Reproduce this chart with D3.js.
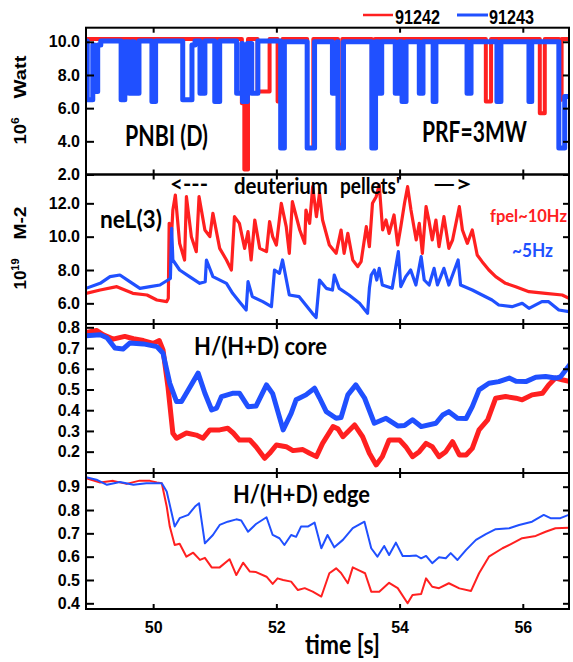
<!DOCTYPE html>
<html><head><meta charset="utf-8">
<script src="https://cdn.jsdelivr.net/npm/d3@7"></script>
<style>body{margin:0;background:#fff}svg{display:block}</style>
</head><body>
<svg id="c" width="573" height="662"></svg>
<script>
// ---------- data (time [s], value) ----------
const xTicks = [50, 52, 54, 56];
const pnbiTicks = [2, 4, 6, 8, 10];
const nelTicks = [6, 8, 10, 12];
const coreTicks = [0.2, 0.3, 0.4, 0.5, 0.6, 0.7, 0.8];
const edgeTicks = [0.4, 0.5, 0.6, 0.7, 0.8, 0.9];
const shots = ["91242", "91243"];

const pnbiRed = [[48.91,10.17],[51.44,6.3],[51.48,2.3],[51.54,10.17],[51.695,7.0],[51.89,10.17],[52.02,6.4],[52.10,10.17],[52.50,3.6],[52.60,10.17],[53.00,3.8],[53.07,10.17],[53.55,6.5],[53.60,10.17],[55.40,6.4],[55.485,10.17],[56.276,5.7],[56.357,10.17],[56.59,6.5],[56.63,10.17],[56.75,10.17]];
const pnbiBlue = [[48.91,10.05],[48.93,6.5],[49.02,9.8],[49.05,7.0],[49.10,9.8],[49.15,10.05],[49.48,6.5],[49.54,10.0],[49.61,6.9],[49.655,10.0],[49.69,6.9],[49.77,10.05],[49.98,6.4],[50.04,10.05],[50.48,6.5],[50.63,9.8],[50.68,10.05],[50.76,6.9],[50.84,10.05],[51.00,6.4],[51.08,10.05],[51.355,6.9],[51.44,9.9],[51.45,6.4],[51.53,9.9],[51.60,6.9],[51.70,10.05],[52.07,3.6],[52.13,10.0],[52.50,3.6],[52.62,10.0],[52.91,6.9],[52.99,10.0],[53.00,3.6],[53.09,10.0],[53.55,3.6],[53.61,10.0],[53.665,6.9],[53.71,10.0],[53.93,6.9],[53.99,10.0],[54.04,6.4],[54.105,10.0],[54.32,6.9],[54.38,10.0],[54.545,6.4],[54.59,10.0],[55.095,6.9],[55.16,10.0],[55.58,6.4],[55.645,10.0],[56.10,6.4],[56.145,10.0],[56.585,3.6],[56.68,6.7],[56.75,6.7]];

const nelRed = [[48.91,6.6],[49.14,6.8],[49.41,7.0],[49.67,6.6],[49.90,6.5],[50.06,6.2],[50.22,6.1],[50.246,6.3],[50.26,10.8],[50.29,9.5],[50.32,11.6],[50.36,12.5],[50.43,9.6],[50.51,8.6],[50.54,12.4],[50.62,10.0],[50.70,9.1],[50.745,12.4],[50.84,10.4],[50.92,10.0],[50.97,11.4],[51.08,9.3],[51.19,8.6],[51.27,8.0],[51.32,11.2],[51.40,10.8],[51.485,9.3],[51.54,10.3],[51.59,8.6],[51.65,11.0],[51.73,9.3],[51.84,9.1],[51.89,10.9],[51.94,10.0],[52.00,9.5],[52.08,12.0],[52.16,10.6],[52.21,9.0],[52.26,12.1],[52.38,10.4],[52.46,9.6],[52.48,11.6],[52.54,10.8],[52.59,13.0],[52.65,11.2],[52.70,12.6],[52.75,11.0],[52.86,9.5],[52.97,9.0],[53.05,10.4],[53.10,9.0],[53.16,10.2],[53.24,8.6],[53.32,8.2],[53.375,8.5],[53.46,10.6],[53.51,9.4],[53.56,12.0],[53.62,12.4],[53.67,13.1],[53.725,10.4],[53.78,11.0],[53.83,10.2],[53.91,11.3],[53.97,9.5],[54.02,10.6],[54.08,12.0],[54.13,13.0],[54.185,11.6],[54.27,9.8],[54.32,10.8],[54.37,9.0],[54.43,11.8],[54.48,10.9],[54.53,9.8],[54.59,11.0],[54.64,9.4],[54.72,11.2],[54.80,9.3],[54.86,9.8],[54.97,11.8],[55.02,10.4],[55.10,9.6],[55.18,10.4],[55.26,8.9],[55.34,8.5],[55.45,8.0],[55.56,7.6],[55.72,7.2],[55.885,7.0],[56.10,6.7],[56.37,6.6],[56.64,6.5],[56.75,6.3]];
const nelBlue = [[48.91,6.9],[49.14,7.2],[49.30,7.6],[49.46,7.7],[49.62,7.3],[49.785,6.9],[49.95,7.0],[50.11,7.1],[50.24,7.4],[50.28,7.5],[50.30,10.5],[50.32,8.6],[50.43,8.0],[50.59,7.6],[50.756,7.2],[50.845,7.3],[50.865,8.6],[50.97,7.6],[51.19,7.2],[51.29,6.6],[51.40,6.1],[51.51,5.6],[51.54,7.3],[51.61,6.4],[51.78,6.1],[51.92,5.8],[51.97,8.0],[52.05,7.8],[52.10,8.6],[52.21,6.5],[52.37,6.4],[52.585,5.4],[52.645,5.15],[52.70,7.4],[52.81,6.9],[52.91,6.8],[52.94,7.7],[53.02,6.9],[53.18,6.5],[53.35,6.0],[53.48,5.4],[53.51,6.9],[53.54,7.7],[53.59,8.0],[53.63,7.4],[53.67,8.1],[53.72,7.1],[53.88,6.9],[53.98,9.1],[54.02,7.0],[54.10,7.6],[54.18,8.0],[54.265,7.1],[54.35,8.8],[54.40,7.4],[54.48,7.1],[54.56,8.1],[54.615,7.1],[54.72,8.1],[54.80,7.1],[54.95,8.6],[54.99,7.1],[55.18,6.8],[55.34,6.5],[55.50,6.2],[55.61,5.9],[55.825,5.8],[55.99,6.0],[56.10,5.7],[56.31,6.1],[56.42,6.1],[56.585,5.6],[56.75,5.5]];

const coreRed = [[48.91,0.775],[49.08,0.785],[49.19,0.764],[49.35,0.743],[49.54,0.756],[49.68,0.745],[49.84,0.736],[50.00,0.722],[50.10,0.736],[50.16,0.691],[50.24,0.514],[50.32,0.289],[50.38,0.265],[50.54,0.29],[50.70,0.28],[50.81,0.265],[50.92,0.305],[51.08,0.305],[51.21,0.313],[51.30,0.29],[51.40,0.256],[51.57,0.256],[51.67,0.224],[51.81,0.168],[51.89,0.192],[52.00,0.232],[52.16,0.224],[52.27,0.205],[52.43,0.21],[52.54,0.192],[52.65,0.176],[52.75,0.24],[52.92,0.321],[53.00,0.31],[53.08,0.272],[53.27,0.329],[53.40,0.272],[53.51,0.192],[53.62,0.136],[53.72,0.176],[53.83,0.256],[54.00,0.256],[54.10,0.224],[54.21,0.176],[54.32,0.2],[54.43,0.24],[54.53,0.224],[54.64,0.176],[54.75,0.2],[54.86,0.248],[54.97,0.184],[55.08,0.184],[55.18,0.216],[55.29,0.305],[55.43,0.353],[55.56,0.458],[55.72,0.466],[55.89,0.458],[55.99,0.45],[56.15,0.474],[56.32,0.482],[56.42,0.522],[56.53,0.555],[56.64,0.547],[56.75,0.54]];
const coreBlue = [[48.91,0.759],[49.14,0.764],[49.25,0.75],[49.38,0.70],[49.51,0.695],[49.62,0.724],[49.84,0.72],[50.06,0.707],[50.16,0.675],[50.27,0.53],[50.38,0.442],[50.46,0.442],[50.57,0.498],[50.73,0.579],[50.84,0.482],[50.95,0.401],[51.03,0.41],[51.11,0.466],[51.30,0.482],[51.40,0.482],[51.54,0.417],[51.67,0.42],[51.84,0.522],[51.94,0.48],[52.11,0.305],[52.24,0.385],[52.32,0.45],[52.48,0.474],[52.62,0.506],[52.70,0.46],[52.81,0.393],[52.97,0.361],[53.05,0.365],[53.16,0.474],[53.29,0.522],[53.43,0.46],[53.59,0.337],[53.78,0.361],[53.97,0.324],[54.08,0.326],[54.21,0.354],[54.35,0.321],[54.59,0.337],[54.70,0.377],[54.80,0.393],[54.94,0.361],[55.08,0.36],[55.18,0.417],[55.29,0.498],[55.45,0.53],[55.61,0.538],[55.78,0.555],[55.89,0.54],[56.05,0.538],[56.21,0.559],[56.37,0.563],[56.53,0.555],[56.61,0.56],[56.70,0.595],[56.78,0.627]];

const edgeRed = [[48.91,0.936],[49.14,0.918],[49.35,0.925],[49.57,0.912],[49.78,0.926],[49.95,0.925],[50.06,0.918],[50.14,0.915],[50.22,0.815],[50.27,0.729],[50.35,0.65],[50.43,0.655],[50.54,0.60],[50.65,0.617],[50.76,0.586],[50.84,0.595],[50.95,0.554],[51.08,0.554],[51.24,0.589],[51.35,0.521],[51.46,0.574],[51.57,0.536],[51.67,0.534],[51.84,0.514],[51.94,0.483],[52.02,0.507],[52.11,0.5],[52.24,0.493],[52.35,0.457],[52.46,0.465],[52.59,0.45],[52.73,0.429],[52.86,0.529],[52.97,0.55],[53.05,0.53],[53.16,0.486],[53.24,0.554],[53.35,0.54],[53.44,0.529],[53.54,0.45],[53.67,0.45],[53.83,0.488],[53.97,0.465],[54.13,0.40],[54.21,0.436],[54.35,0.44],[54.43,0.507],[54.53,0.471],[54.64,0.465],[54.80,0.486],[54.97,0.464],[55.16,0.453],[55.29,0.529],[55.45,0.60],[55.67,0.636],[55.83,0.657],[55.99,0.679],[56.21,0.689],[56.37,0.707],[56.53,0.722],[56.75,0.724]];
const edgeBlue = [[48.91,0.941],[49.08,0.93],[49.25,0.908],[49.46,0.92],[49.68,0.908],[49.89,0.915],[50.14,0.915],[50.22,0.879],[50.27,0.822],[50.35,0.729],[50.43,0.765],[50.57,0.779],[50.68,0.815],[50.745,0.829],[50.84,0.657],[50.97,0.693],[51.08,0.736],[51.21,0.75],[51.35,0.76],[51.43,0.755],[51.54,0.707],[51.67,0.74],[51.84,0.769],[51.94,0.693],[52.05,0.679],[52.13,0.65],[52.24,0.693],[52.32,0.685],[52.40,0.729],[52.51,0.729],[52.62,0.746],[52.73,0.636],[52.83,0.693],[52.94,0.64],[53.08,0.672],[53.24,0.722],[53.43,0.75],[53.54,0.636],[53.64,0.60],[53.75,0.646],[53.83,0.607],[53.94,0.66],[54.05,0.603],[54.16,0.603],[54.27,0.605],[54.35,0.593],[54.43,0.603],[54.53,0.572],[54.64,0.597],[54.75,0.593],[54.83,0.615],[54.94,0.586],[55.08,0.629],[55.24,0.672],[55.40,0.697],[55.56,0.718],[55.78,0.722],[55.94,0.736],[56.15,0.75],[56.34,0.779],[56.45,0.765],[56.61,0.765],[56.78,0.783]];

// ---------- layout ----------
const RED = "#ff2020", BLUE = "#2050ff";
const L = 86, R = 569;
const svg = d3.select("#c");
const x = d3.scaleLinear().domain([48.91, 56.75]).range([L, R]);
const fmt = d3.format(".1f");
const panels = [
  {top: 27.7, bottom: 174.5, dom: [2, 10.85], ticks: pnbiTicks},
  {top: 174.5, bottom: 324, dom: [4.76, 13.73], ticks: nelTicks},
  {top: 324, bottom: 473, dom: [0.097, 0.816], ticks: coreTicks},
  {top: 473, bottom: 609, dom: [0.3756, 0.9587], ticks: edgeTicks}
];
const defs = svg.append("defs");
panels.forEach((p, i) => {
  p.y = d3.scaleLinear().domain(p.dom).range([p.bottom, p.top]);
  defs.append("clipPath").attr("id", "clip" + i).append("rect")
    .attr("x", L).attr("y", p.top).attr("width", R - L).attr("height", p.bottom - p.top);
});

const series = [
  {p: 0, d: pnbiRed, c: RED, w: 4, curve: d3.curveStepAfter},
  {p: 0, d: pnbiBlue, c: BLUE, w: 5, curve: d3.curveStepAfter},
  {p: 1, d: nelRed, c: RED, w: 3.2, curve: d3.curveLinear},
  {p: 1, d: nelBlue, c: BLUE, w: 3.2, curve: d3.curveLinear},
  {p: 2, d: coreRed, c: RED, w: 5, curve: d3.curveLinear},
  {p: 2, d: coreBlue, c: BLUE, w: 5, curve: d3.curveLinear},
  {p: 3, d: edgeRed, c: RED, w: 2, curve: d3.curveLinear},
  {p: 3, d: edgeBlue, c: BLUE, w: 2, curve: d3.curveLinear}
];
series.forEach(s => {
  const p = panels[s.p];
  const line = d3.line().x(d => x(d[0])).y(d => p.y(d[1])).curve(s.curve);
  svg.append("path").attr("clip-path", `url(#clip${s.p})`)
    .attr("d", line(s.d)).attr("fill", "none").attr("stroke", s.c)
    .attr("stroke-width", s.w).attr("stroke-linejoin", "round");
});

// axes
panels.forEach((p, i) => {
  const gl = svg.append("g").attr("transform", `translate(${L},0)`)
    .call(d3.axisLeft(p.y).tickValues(p.ticks).tickSize(-8).tickPadding(6).tickFormat(fmt));
  gl.select(".domain").remove();
  gl.attr("font-family", "'Liberation Sans', Arial, sans-serif").attr("font-size", 16).attr("font-weight", "bold");
  gl.selectAll("line").attr("stroke-width", 2);
  gl.selectAll("text").attr("fill", "#000");
  const gr = svg.append("g").attr("transform", `translate(${R},0)`)
    .call(d3.axisRight(p.y).tickValues(p.ticks).tickSize(-6).tickFormat(""));
  gr.select(".domain").remove();
  gr.selectAll("line").attr("stroke-width", 2);
  const gt = svg.append("g").attr("transform", `translate(0,${p.top})`)
    .call(d3.axisTop(x).tickValues(xTicks).tickSize(-5).tickFormat(""));
  gt.select(".domain").remove();
  gt.selectAll("line").attr("stroke-width", 2);
  const gb = svg.append("g").attr("transform", `translate(0,${p.bottom})`)
    .call(d3.axisBottom(x).tickValues(xTicks).tickSize(-5).tickPadding(13)
      .tickFormat(i === 3 ? d3.format("d") : ""));
  gb.select(".domain").remove();
  gb.selectAll("line").attr("stroke-width", 2);
  gb.attr("font-family", "'Liberation Sans', Arial, sans-serif").attr("font-size", 16).attr("font-weight", "bold");
  svg.append("rect").attr("x", L).attr("y", p.top).attr("width", R - L).attr("height", p.bottom - p.top)
    .attr("fill", "none").attr("stroke", "#000").attr("stroke-width", 2);
});

// y titles
function ytitle(parts, cy, len) {
  const t = svg.append("text").attr("transform", `translate(26,${cy}) rotate(-90)`)
    .attr("text-anchor", "middle").attr("font-family", "'Liberation Sans', Arial, sans-serif")
    .attr("font-weight", "bold").attr("font-size", 17);
  parts.forEach(pt => {
    const ts = t.append("tspan").text(pt.t);
    if (pt.sup) ts.attr("font-size", 11).attr("dy", -7);
  });
  if (len) t.attr("textLength", len).attr("lengthAdjust", "spacingAndGlyphs");
}
ytitle([{t: "Watt"}], 77, 43);
ytitle([{t: "10"}, {t: "6", sup: true}], 131, 27);
ytitle([{t: "M-2"}], 223, 33);
ytitle([{t: "10"}, {t: "19", sup: true}], 274, 31);

// annotations
const ann = [
  {t: "PNBI (D)", x: 125, y: 146, fs: 28, len: 83, c: "#000"},
  {t: "PRF=3MW", x: 422, y: 142, fs: 28, len: 105, c: "#000"},
  {t: "neL(3)", x: 100, y: 228, fs: 25, len: 62, c: "#000"},
  {t: "<---", x: 170, y: 192, fs: 23, len: 38, c: "#000"},
  {t: "deuterium", x: 234, y: 194, fs: 23, len: 94, c: "#000"},
  {t: "pellets'", x: 340, y: 194, fs: 23, len: 60, c: "#000"},
  {t: "\u2014>", x: 433, y: 192, fs: 23, len: 39, c: "#000"},
  {t: "fpel~10Hz", x: 490, y: 222, fs: 16.5, len: 77, c: RED},
  {t: "~5Hz", x: 512, y: 257, fs: 18, len: 41, c: BLUE},
  {t: "H/(H+D) core", x: 194, y: 355, fs: 25, len: 133, c: "#000"},
  {t: "H/(H+D) edge", x: 233, y: 503, fs: 25, len: 137, c: "#000"},
  {t: "time [s]", x: 305, y: 654, fs: 26, len: 75, c: "#000"}
];
ann.forEach(a => {
  svg.append("text").attr("x", a.x).attr("y", a.y).text(a.t)
    .attr("font-family", "Lato, 'Open Sans', sans-serif").attr("font-size", a.fs)
    .attr("font-weight", "bold")
    .attr("fill", a.c).attr("textLength", a.len).attr("lengthAdjust", "spacingAndGlyphs");
});

// legend
const leg = [{x1: 363, x2: 393, tx: 395, c: RED, w: 2.5}, {x1: 457, x2: 488, tx: 489, c: BLUE, w: 3}];
leg.forEach((l, i) => {
  svg.append("line").attr("x1", l.x1).attr("x2", l.x2).attr("y1", 15).attr("y2", 15)
    .attr("stroke", l.c).attr("stroke-width", l.w);
  svg.append("text").attr("x", l.tx).attr("y", 24).text(shots[i])
    .attr("font-family", "'Liberation Sans', Arial, sans-serif").attr("font-size", 21)
    .attr("font-weight", "bold")
    .attr("textLength", 45).attr("lengthAdjust", "spacingAndGlyphs");
});
</script>
</body></html>
